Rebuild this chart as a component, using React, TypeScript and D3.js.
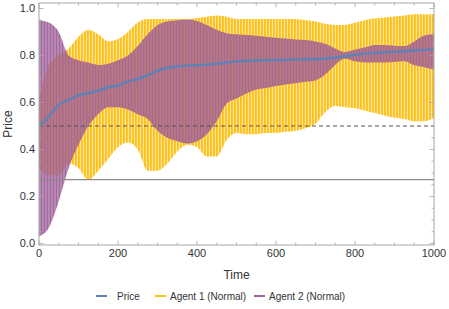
import { area, curveMonotoneX, line, range, scaleLinear } from 'd3';

// sample times (every 25 steps) shared by every series below
const times = range(0, 1001, 25);

const agent1Upper = [
  0.62, 0.76, 0.8, 0.83, 0.88, 0.91, 0.89, 0.86, 0.87, 0.9, 0.94, 0.955, 0.955, 0.955,
  0.955, 0.955, 0.96, 0.965, 0.97, 0.965, 0.955, 0.955, 0.955, 0.955, 0.955, 0.955,
  0.955, 0.95, 0.945, 0.935, 0.93, 0.93, 0.94, 0.95, 0.958, 0.962, 0.966, 0.97, 0.975,
  0.975, 0.975,
];
const agent1Lower = [
  0.32, 0.29, 0.29, 0.34, 0.32, 0.27, 0.31, 0.36, 0.41, 0.43, 0.4, 0.31, 0.31, 0.34,
  0.39, 0.42, 0.41, 0.37, 0.37, 0.44, 0.47, 0.465, 0.465, 0.47, 0.47, 0.475, 0.48, 0.49,
  0.51, 0.56, 0.585, 0.58, 0.575, 0.565, 0.555, 0.545, 0.535, 0.53, 0.52, 0.52, 0.535,
];
const agent2Upper = [
  0.95, 0.94, 0.9, 0.8, 0.78, 0.77, 0.76, 0.765, 0.78, 0.8, 0.84, 0.89, 0.93, 0.945, 0.95,
  0.953, 0.947, 0.93, 0.91, 0.895, 0.89, 0.887, 0.884, 0.88, 0.876, 0.872, 0.868, 0.866,
  0.86, 0.85, 0.83, 0.815, 0.825, 0.835, 0.845, 0.845, 0.842, 0.84, 0.86, 0.885, 0.89,
];
const agent2Lower = [
  0.03, 0.067, 0.18, 0.32, 0.42, 0.5, 0.55, 0.58, 0.58, 0.57, 0.55, 0.53, 0.48, 0.45,
  0.435, 0.425, 0.435, 0.465, 0.52, 0.595, 0.617, 0.638, 0.655, 0.662, 0.67, 0.677,
  0.682, 0.688, 0.694, 0.72, 0.76, 0.786, 0.775, 0.77, 0.77, 0.77, 0.772, 0.775, 0.758,
  0.75, 0.74,
];
const price = [
  0.5, 0.54, 0.59, 0.61, 0.63, 0.64, 0.65, 0.665, 0.672, 0.69, 0.7, 0.715, 0.735, 0.748,
  0.753, 0.757, 0.759, 0.761, 0.765, 0.77, 0.775, 0.777, 0.779, 0.78, 0.781, 0.782, 0.783,
  0.784, 0.785, 0.787, 0.792, 0.797, 0.803, 0.808, 0.811, 0.814, 0.816, 0.818, 0.821,
  0.824, 0.826,
];

const referenceLevels = [
  { value: 0.5, dashed: true },
  { value: 0.272, dashed: false },
];

const xTicks = [0, 200, 400, 600, 800, 1000];
const yTicks = [0, 0.2, 0.4, 0.6, 0.8, 1.0];

const legendItems = [
  { label: 'Price', color: '#5f82b6' },
  { label: 'Agent 1 (Normal)', color: '#ffbf1a' },
  { label: 'Agent 2 (Normal)', color: '#a0609a' },
];

const FONT = '"Liberation Sans", Arial, sans-serif';

export default function App() {
  const width = 449;
  const height = 309;
  const frame = { left: 39, right: 434, top: 3, bottom: 245 };

  const x = scaleLinear().domain([0, 1000]).range([frame.left, frame.right]);
  const y = scaleLinear().domain([-0.0064, 1.0234]).range([frame.bottom, frame.top]);

  const band = (upper: number[], lower: number[]) =>
    area<number>()
      .x((t) => x(t))
      .y0((_, i) => y(lower[i]))
      .y1((_, i) => y(upper[i]))
      .curve(curveMonotoneX)(times) || '';

  const pricePath =
    line<number>()
      .x((t) => x(t))
      .y((_, i) => y(price[i]))
      .curve(curveMonotoneX)(times) || '';

  const xMinor = range(0, 1001, 50);
  const yMinor = range(0, 1.001, 0.05);
  const frameColor = '#a6a6a6';
  const textColor = '#333';

  const legendX = [96, 155, 254];

  return (
    <svg
      width={width}
      height={height}
      style={{ position: 'absolute', left: 0, top: 0, background: '#fff' }}
    >
      <defs>
        <pattern id="stripeA" patternUnits="userSpaceOnUse" x={frame.left} width={3} height={10}>
          <rect width={3} height={10} fill="#ffe699" />
          <rect width={1.8} height={10} fill="#ffbf1a" />
        </pattern>
        <pattern id="stripeB" patternUnits="userSpaceOnUse" x={frame.left + 1.5} width={3} height={10}>
          <rect width={3} height={10} fill="#a0609a" opacity={0.4} />
          <rect width={2.3} height={10} fill="#a0609a" opacity={0.9} />
        </pattern>
        <clipPath id="plotClip">
          <rect
            x={frame.left}
            y={frame.top}
            width={frame.right - frame.left}
            height={frame.bottom - frame.top}
          />
        </clipPath>
      </defs>

      <g clipPath="url(#plotClip)">
        <path d={band(agent1Upper, agent1Lower)} fill="url(#stripeA)" />
        <path d={band(agent2Upper, agent2Lower)} fill="url(#stripeB)" />
        {referenceLevels.map((lvl) => (
          <line
            key={lvl.value}
            x1={frame.left}
            x2={frame.right}
            y1={y(lvl.value)}
            y2={y(lvl.value)}
            stroke={lvl.dashed ? '#555' : '#8c8c8c'}
            strokeWidth={lvl.dashed ? 1 : 1.3}
            strokeDasharray={lvl.dashed ? '4,3' : undefined}
          />
        ))}
        <path d={pricePath} fill="none" stroke="#5f82b6" strokeWidth={2.4} />
      </g>

      {/* frame */}
      <rect
        x={frame.left}
        y={frame.top}
        width={frame.right - frame.left}
        height={frame.bottom - frame.top}
        fill="none"
        stroke={frameColor}
        strokeWidth={1}
      />

      {/* ticks on all four sides, pointing inward */}
      <g stroke={frameColor} strokeWidth={0.8}>
        {xMinor.map((t) => {
          const len = t % 200 === 0 ? 4.5 : 2.5;
          return (
            <g key={`xt${t}`}>
              <line x1={x(t)} x2={x(t)} y1={frame.bottom} y2={frame.bottom - len} />
              <line x1={x(t)} x2={x(t)} y1={frame.top} y2={frame.top + len} />
            </g>
          );
        })}
        {yMinor.map((v, i) => {
          const len = i % 4 === 0 ? 4.5 : 2.5;
          return (
            <g key={`yt${i}`}>
              <line x1={frame.left} x2={frame.left + len} y1={y(v)} y2={y(v)} />
              <line x1={frame.right} x2={frame.right - len} y1={y(v)} y2={y(v)} />
            </g>
          );
        })}
      </g>

      <g fontFamily={FONT} fontSize={11} fill={textColor}>
        {xTicks.map((t) => (
          <text key={`xl${t}`} x={x(t)} y={frame.bottom + 12} textAnchor="middle">
            {t}
          </text>
        ))}
        {yTicks.map((v) => (
          <text key={`yl${v}`} x={frame.left - 4} y={y(v) + 4} textAnchor="end">
            {v.toFixed(1)}
          </text>
        ))}
        <text x={(frame.left + frame.right) / 2} y={279} textAnchor="middle" fontSize={12}>
          Time
        </text>
        <text
          transform={`translate(12, ${(frame.top + frame.bottom) / 2}) rotate(-90)`}
          textAnchor="middle"
          fontSize={12}
        >
          Price
        </text>
      </g>

      <g fontFamily={FONT} fontSize={10} fill={textColor}>
        {legendItems.map((item, i) => (
          <g key={item.label} transform={`translate(${legendX[i]}, 296)`}>
            <line x1={0} x2={11} y1={0} y2={0} stroke={item.color} strokeWidth={2} />
            <text x={i === 0 ? 21 : 15} y={3.5}>
              {item.label}
            </text>
          </g>
        ))}
      </g>
    </svg>
  );
}
